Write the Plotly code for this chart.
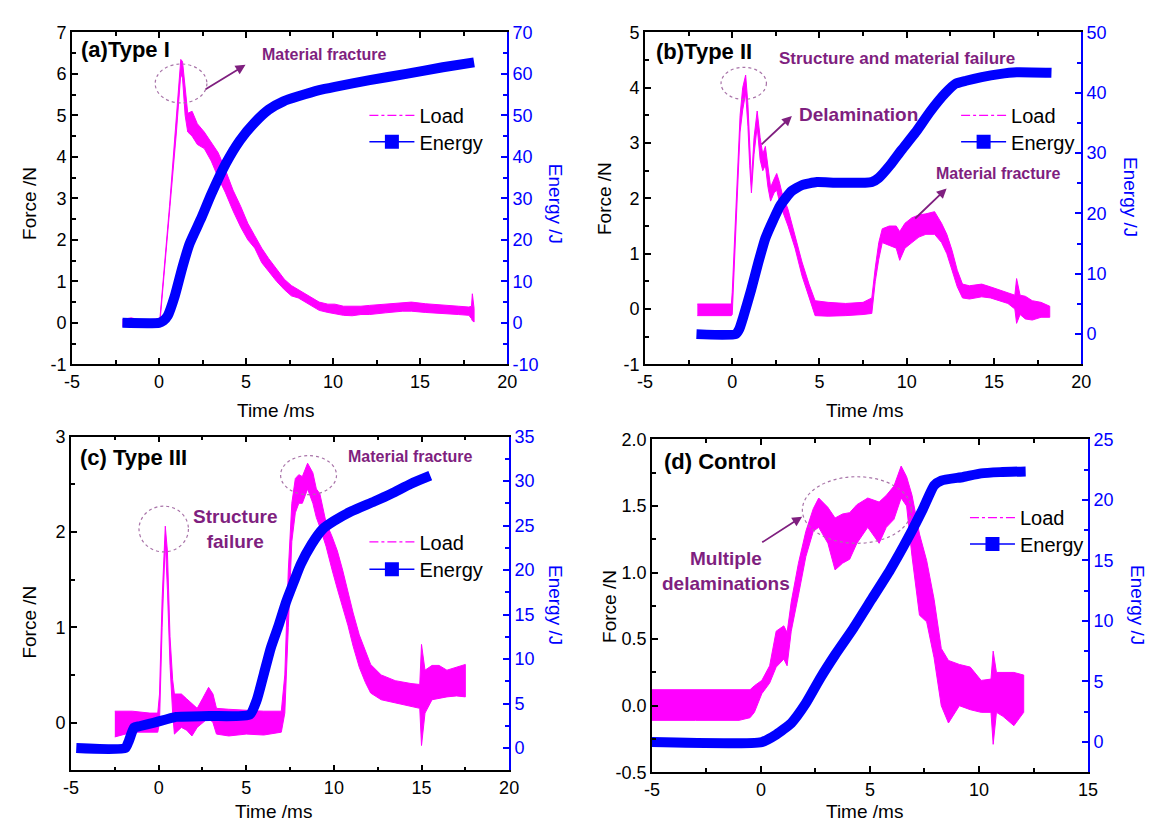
import plotly.graph_objects as go

# ---------------------------------------------------------------- data
X_TICKS_ABC = [-5, 0, 5, 10, 15, 20]
X_TICKS_D = [-5, 0, 5, 10, 15]

A_FORCE_TICKS = [-1, 0, 1, 2, 3, 4, 5, 6, 7]
A_ENERGY_TICKS = [-10, 0, 10, 20, 30, 40, 50, 60, 70]
B_FORCE_TICKS = [-1, 0, 1, 2, 3, 4, 5]
B_ENERGY_TICKS = [0, 10, 20, 30, 40, 50]
C_FORCE_TICKS = [0, 1, 2, 3]
C_ENERGY_TICKS = [0, 5, 10, 15, 20, 25, 30, 35]
D_FORCE_TICKS = [-0.5, 0.0, 0.5, 1.0, 1.5, 2.0]
D_ENERGY_TICKS = [0, 5, 10, 15, 20, 25]

# (a) Type I  -- load band (lower / upper envelope of the noisy trace)
A_LOAD_T = [-2.1, -1.6, -1.0, 0.0, 0.05, 0.6, 1.0, 1.25, 1.35, 1.5,
            1.65, 1.9, 2.2, 2.6, 3.0, 3.4, 3.8, 4.25, 4.7, 5.1,
            5.5, 5.9, 6.3, 6.75, 7.2, 7.6, 8.0, 8.4, 8.8, 9.2,
            9.7, 10.1, 10.6, 11.1, 11.6, 12.1, 13.0, 14.0, 14.5, 15.3,
            16.3, 17.2, 17.8, 17.95, 18.0, 18.1]
A_LOAD_LO = [-0.08, -0.1, -0.06, -0.05, 0.0, 2.6, 4.6, 6.0, 5.9, 5.0,
             4.6, 4.5, 4.3, 4.2, 3.9, 3.5, 3.15, 2.7, 2.3, 2.0,
             1.8, 1.45, 1.25, 1.0, 0.8, 0.65, 0.6, 0.5, 0.4, 0.3,
             0.25, 0.21, 0.18, 0.17, 0.2, 0.2, 0.24, 0.28, 0.28, 0.25,
             0.22, 0.2, 0.18, 0.1, 0.05, 0.02]
A_LOAD_HI = [0.08, 0.12, 0.06, 0.1, 0.1, 2.8, 4.9, 6.35, 6.3, 5.6,
             5.05, 5.1, 4.8, 4.6, 4.35, 4.1, 3.7, 3.2, 2.8, 2.4,
             2.1, 1.8, 1.55, 1.3, 1.05, 0.9, 0.8, 0.72, 0.6, 0.5,
             0.45, 0.45, 0.4, 0.4, 0.4, 0.42, 0.45, 0.49, 0.5, 0.46,
             0.42, 0.4, 0.38, 0.4, 0.7, 0.35]
A_ENERGY_T = [-2.1, 0.0, 0.25, 0.5, 0.9, 1.35, 1.75, 2.4, 3.0, 3.85,
              4.65, 5.5, 6.3, 7.15, 8.0, 9.2, 10.1, 12.1, 14.2, 16.3, 18.1]
A_ENERGY = [0, 0, 0.5, 1.7, 6.4, 13.5, 19, 25, 31, 38.5,
            44, 48.3, 51.4, 53.4, 54.6, 56.1, 56.9, 58.5, 60, 61.6, 62.8]

# (b) Type II
B_LOAD_T = [-2.0, -1.0, -0.05, 0.0, 0.2, 0.45, 0.6, 0.77, 0.9, 1.0,
            1.1, 1.25, 1.43, 1.6, 1.75, 1.9, 2.05, 2.2, 2.4, 2.55,
            2.7, 2.85, 3.2, 3.6, 4.0, 4.4, 4.75, 5.5, 6.5, 7.5,
            8.0, 8.2, 8.4, 8.6, 9.0, 9.4, 9.6, 9.9, 10.3, 10.7,
            11.1, 11.6, 12.0, 12.3, 12.6, 12.9, 13.2, 13.6, 14.3, 14.8,
            15.3, 15.8, 16.2, 16.3, 16.5, 16.8, 17.2, 17.7, 18.2]
B_LOAD_LO = [-0.12, -0.12, -0.12, -0.1, 1.5, 3.2, 3.6, 3.9, 3.3, 2.6,
             2.1, 2.8, 3.3, 2.7, 2.5, 2.6, 2.2, 1.95, 2.1, 2.15,
             1.95, 1.8, 1.5, 1.1, 0.6, 0.2, -0.12, -0.13, -0.12, -0.1,
             -0.08, 0.5, 0.9, 1.2, 1.15, 1.1, 0.88, 1.1, 1.2, 1.3,
             1.35, 1.35, 1.2, 1.0, 0.7, 0.4, 0.2, 0.18, 0.22, 0.2,
             0.15, 0.1, 0.0, -0.26, -0.1, -0.18, -0.2, -0.15, -0.15]
B_LOAD_HI = [0.09, 0.09, 0.09, 0.3, 1.7, 3.5, 4.0, 4.23, 3.7, 2.9,
             2.3, 3.1, 3.58, 3.1, 2.8, 2.94, 2.6, 2.2, 2.35, 2.45,
             2.3, 2.1, 1.8, 1.3, 0.85, 0.45, 0.15, 0.12, 0.1, 0.12,
             0.2, 0.75, 1.2, 1.45, 1.5, 1.5, 1.4, 1.55, 1.65, 1.7,
             1.72, 1.76, 1.55, 1.35, 1.06, 0.7, 0.45, 0.42, 0.45, 0.4,
             0.35, 0.3, 0.25, 0.55, 0.25, 0.23, 0.15, 0.12, 0.05]
B_ENERGY_T = [-2.05, 0.2, 0.4, 0.65, 1.08, 1.5, 1.9, 2.35, 2.75, 3.4,
              4.0, 4.85, 5.9, 7.6, 8.0, 8.4, 9.05, 9.7, 10.5, 11.35,
              12.2, 12.8, 13.4, 14.3, 15.3, 16.3, 18.3]
B_ENERGY = [0, 0, 0.8, 3, 7.3, 11.9, 15.9, 18.9, 21.3, 23.7,
            24.7, 25.2, 25.1, 25.1, 25.2, 25.9, 28, 30.5, 33.4, 36.9,
            39.9, 41.5, 42, 42.6, 43.1, 43.4, 43.3]

# (c) Type III
C_LOAD_T = [-2.5, -1.5, -0.5, -0.05, 0.05, 0.2, 0.38, 0.5, 0.65, 0.8,
            0.9, 1.3, 1.6, 1.9, 2.2, 2.5, 2.85, 3.1, 3.3, 4.0,
            5.0, 6.0, 7.0, 7.2, 7.4, 7.6, 7.8, 8.0, 8.2, 8.5,
            8.8, 9.0, 9.2, 9.55, 9.9, 10.2, 10.5, 10.8, 11.1, 11.45,
            11.8, 12.1, 12.7, 13.5, 14.4, 14.9, 15.0, 15.2, 15.6, 16.0,
            16.45, 17.0, 17.5]
C_LOAD_LO = [-0.15, -0.1, -0.1, -0.1, 0.0, 1.0, 1.9, 1.4, 0.6, 0.1,
             -0.12, -0.05, -0.08, -0.14, -0.05, 0.0, 0.05, 0.0, -0.12, -0.14,
             -0.12, -0.13, -0.1, 0.1, 1.0, 1.9, 2.2, 2.3, 2.3, 2.45,
             2.3, 2.15, 2.05, 1.85, 1.6, 1.4, 1.2, 1.02, 0.8, 0.58,
             0.42, 0.31, 0.24, 0.2, 0.17, 0.15, -0.24, 0.1, 0.24, 0.25,
             0.27, 0.28, 0.27]
C_LOAD_HI = [0.12, 0.12, 0.1, 0.1, 0.3, 1.3, 2.06, 1.8, 0.9, 0.45,
             0.3, 0.3, 0.25, 0.2, 0.15, 0.25, 0.37, 0.3, 0.15, 0.14,
             0.13, 0.12, 0.12, 0.5, 1.6, 2.3, 2.56, 2.6, 2.58, 2.72,
             2.62, 2.45, 2.4, 2.1, 1.95, 1.8, 1.6, 1.36, 1.15, 0.92,
             0.75, 0.61, 0.5, 0.44, 0.41, 0.4, 0.82, 0.55, 0.6, 0.6,
             0.55, 0.58, 0.61]
C_ENERGY_T = [-4.7, -1.9, -1.7, -1.4, -1.1, -0.25, 1.0, 2.9, 5.2, 5.6,
              6.0, 6.4, 6.85, 7.27, 7.7, 8.1, 8.73, 9.36, 10.0, 11.0,
              12.3, 13.3, 14.4, 15.5]
C_ENERGY = [0, 0, 0.8, 2.3, 2.45, 2.85, 3.5, 3.6, 3.75, 5.4,
            8.3, 11.25, 13.8, 16.4, 18.6, 20.6, 22.9, 24.6, 25.5, 26.6,
            27.7, 28.6, 29.7, 30.6]

# (d) Control
D_LOAD_T = [-5.0, -3.0, -1.0, -0.5, -0.3, 0.04, 0.4, 0.7, 1.05, 1.2,
            1.39, 1.72, 2.06, 2.4, 2.65, 3.07, 3.4, 3.74, 4.07, 4.4,
            4.9, 5.42, 5.75, 6.1, 6.43, 6.68, 6.93, 7.27, 7.6, 7.94,
            8.27, 8.6, 9.1, 9.6, 10.1, 10.55, 10.65, 10.8, 11.1, 11.6,
            12.05]
D_LOAD_LO = [-0.11, -0.11, -0.11, -0.09, -0.05, 0.09, 0.17, 0.29, 0.35, 0.3,
             0.56, 0.83, 1.12, 1.31, 1.34, 1.22, 1.02, 1.07, 1.1, 1.22,
             1.34, 1.22, 1.34, 1.4, 1.56, 1.5, 1.12, 0.68, 0.63, 0.36,
             0.0, -0.13, 0.0, -0.03, -0.05, -0.05, -0.29, -0.05, -0.08, -0.15,
             -0.05]
D_LOAD_HI = [0.12, 0.12, 0.12, 0.12, 0.15, 0.19, 0.3, 0.56, 0.6, 0.55,
             0.78, 1.07, 1.31, 1.48, 1.56, 1.49, 1.41, 1.44, 1.45, 1.51,
             1.56, 1.53, 1.58, 1.65, 1.8, 1.72, 1.58, 1.29, 1.09, 0.8,
             0.43, 0.34, 0.31, 0.29, 0.19, 0.2, 0.41, 0.25, 0.25, 0.25,
             0.23]
D_ENERGY_T = [-5.0, 0.04, 0.71, 1.39, 2.06, 2.73, 3.4, 4.24, 5.08, 5.92,
              6.76, 7.44, 7.94, 8.27, 9.28, 10.1, 10.97, 12.14]
D_ENERGY = [0, 0, 0.62, 1.56, 3.2, 5.3, 7.2, 9.4, 11.8, 14.2,
            16.9, 19.3, 21.2, 21.6, 21.9, 22.2, 22.3, 22.36]

# ---------------------------------------------------------------- style
W, H = 1164, 834
FONT = "Liberation Sans, Arial, sans-serif"
MAG = "#FF00FF"
BLUE = "#0000FF"
PURP = "#7F1F7F"
CIRC = "#A873A8"


def lab(v, fmt="{:g}"):
    return fmt.format(v).replace("\u2212", "-")


PANELS = [
    dict(box=(65, 507, 23, 363), xr=[-5, 20], xt=X_TICKS_ABC,
         fr=[-1, 7], ft=A_FORCE_TICKS, fm=0.5, ffmt="{:g}",
         er=[-10, 70], et=A_ENERGY_TICKS, em=5,
         t=A_LOAD_T, lo=A_LOAD_LO, hi=A_LOAD_HI, et_=A_ENERGY_T, e=A_ENERGY,
         leg=(362, 108, 135), ftitle=(22, 198), etitle=(556, 199), xtitle=(272, 410)),
    dict(box=(647, 1090, 23, 363), xr=[-5, 20], xt=X_TICKS_ABC,
         fr=[-1, 5], ft=B_FORCE_TICKS, fm=0.5, ffmt="{:g}",
         er=[-5, 50], et=B_ENERGY_TICKS, em=5,
         t=B_LOAD_T, lo=B_LOAD_LO, hi=B_LOAD_HI, et_=B_ENERGY_T, e=B_ENERGY,
         leg=(963, 108, 135), ftitle=(606, 193), etitle=(1140, 192), xtitle=(870, 410)),
    dict(box=(64, 509, 437, 779), xr=[-5, 20], xt=X_TICKS_ABC,
         fr=[-0.5, 3], ft=C_FORCE_TICKS, fm=0.5, ffmt="{:g}",
         er=[-2.5, 35], et=C_ENERGY_TICKS, em=2.5,
         t=C_LOAD_T, lo=C_LOAD_LO, hi=C_LOAD_HI, et_=C_ENERGY_T, e=C_ENERGY,
         leg=(362, 545, 573), ftitle=(22, 627), etitle=(556, 610), xtitle=(270, 821)),
    dict(box=(654, 1097, 440, 781), xr=[-5, 15], xt=X_TICKS_D,
         fr=[-0.5, 2.0], ft=D_FORCE_TICKS, fm=0.25, ffmt="{:.1f}",
         er=[-2.5, 25], et=D_ENERGY_TICKS, em=2.5,
         t=D_LOAD_T, lo=D_LOAD_LO, hi=D_LOAD_HI, et_=D_ENERGY_T, e=D_ENERGY,
         leg=(972, 520, 547), ftitle=(611, 611), etitle=(1147, 610), xtitle=(870, 821)),
]

fig = go.Figure()
layout = dict(width=W, height=H, margin=dict(l=0, r=0, t=0, b=0),
              paper_bgcolor="white", plot_bgcolor="white",
              font=dict(family=FONT, size=18, color="black"))
annotations = []
shapes = []


def legend_cfg(x, yc):
    return dict(x=x / W, y=1 - yc / H, xanchor="left", yanchor="middle",
                bgcolor="rgba(0,0,0,0)", borderwidth=0,
                font=dict(family=FONT, size=20, color="black"),
                itemwidth=45, tracegroupgap=0)


for i, p in enumerate(PANELS):
    n = i + 1
    xid = "x" if n == 1 else f"x{n}"
    xkey = "xaxis" if n == 1 else f"xaxis{n}"
    fy = 2 * i + 1
    ey = 2 * i + 2
    fid = "y" if fy == 1 else f"y{fy}"
    fkey = "yaxis" if fy == 1 else f"yaxis{fy}"
    eid = f"y{ey}"
    ekey = f"yaxis{ey}"
    leg_load = "legend" if fy == 1 else f"legend{fy}"
    leg_en = f"legend{ey}"
    x0, x1, y0, y1 = p["box"]
    xdom = [x0 / W, x1 / W]
    ydom = [1 - y1 / H, 1 - y0 / H]

    layout[xkey] = dict(domain=xdom, range=p["xr"], anchor=fid,
                        tickmode="array", tickvals=p["xt"],
                        ticktext=[lab(v) for v in p["xt"]],
                        ticks="inside", ticklen=6, tickwidth=1.5, tickcolor="black",
                        minor=dict(dtick=2.5, tick0=0, ticks="inside", ticklen=4,
                                   tickwidth=1.5, tickcolor="black"),
                        showline=True, linewidth=1.6, linecolor="black",
                        mirror="ticks", showgrid=False, zeroline=False,
                        tickfont=dict(size=18, color="black"))
    layout[fkey] = dict(domain=ydom, range=p["fr"], anchor=xid,
                        tickmode="array", tickvals=p["ft"],
                        ticktext=[lab(v, p["ffmt"]) for v in p["ft"]],
                        ticks="inside", ticklen=6, tickwidth=1.5, tickcolor="black",
                        minor=dict(dtick=p["fm"], tick0=0, ticks="inside", ticklen=4,
                                   tickwidth=1.5, tickcolor="black"),
                        showline=True, linewidth=1.6, linecolor="black",
                        showgrid=False, zeroline=False,
                        tickfont=dict(size=18, color="black"))
    layout[ekey] = dict(domain=ydom, range=p["er"], anchor=xid, overlaying=fid,
                        side="right", tickmode="array", tickvals=p["et"],
                        ticktext=[lab(v) for v in p["et"]],
                        ticks="inside", ticklen=6, tickwidth=1.5, tickcolor=BLUE,
                        minor=dict(dtick=p["em"], tick0=0, ticks="inside", ticklen=4,
                                   tickwidth=1.5, tickcolor=BLUE),
                        showline=True, linewidth=1.6, linecolor=BLUE,
                        showgrid=False, zeroline=False,
                        tickfont=dict(size=18, color=BLUE))

    # load band
    fig.add_trace(go.Scatter(
        x=list(p["t"]) + list(p["t"])[::-1],
        y=list(p["hi"]) + list(p["lo"])[::-1],
        mode="lines", fill="toself", fillcolor=MAG,
        line=dict(color=MAG, width=1), xaxis=xid, yaxis=fid,
        showlegend=False, hoverinfo="skip"))
    # energy
    fig.add_trace(go.Scatter(
        x=p["et_"], y=p["e"], mode="lines",
        line=dict(color=BLUE, width=10, shape="spline", smoothing=0.5),
        xaxis=xid, yaxis=eid, showlegend=False))
    # legend entries
    fig.add_trace(go.Scatter(
        x=[None], y=[None], mode="lines", name="Load",
        line=dict(color=MAG, width=1.2, dash="dashdot"),
        xaxis=xid, yaxis=fid, legend=leg_load))
    fig.add_trace(go.Scatter(
        x=[None], y=[None], mode="lines+markers", name="Energy",
        line=dict(color=BLUE, width=1.5),
        marker=dict(symbol="square", size=14, color=BLUE),
        xaxis=xid, yaxis=eid, legend=leg_en))

    lx, ly_load, ly_en = p["leg"]
    layout[leg_load] = legend_cfg(lx, ly_load)
    layout[leg_en] = legend_cfg(lx, ly_en)

    # axis titles
    fx, fyy = p["ftitle"]
    annotations.append(dict(text="Force /N", x=fx / W, y=1 - fyy / H,
                            xref="paper", yref="paper", showarrow=False,
                            xanchor="center", yanchor="middle",
                            textangle=-90, font=dict(size=19, color="black")))
    ex, eyy = p["etitle"]
    annotations.append(dict(text="Energy /J", x=ex / W, y=1 - eyy / H,
                            xref="paper", yref="paper", showarrow=False,
                            xanchor="center", yanchor="middle",
                            textangle=90, font=dict(size=19, color=BLUE)))
    tx, ty = p["xtitle"]
    annotations.append(dict(text="Time /ms", x=tx / W, y=1 - ty / H,
                            xref="paper", yref="paper", showarrow=False,
                            xanchor="center", yanchor="middle",
                            font=dict(size=19, color="black")))


def note(text, x, y, xid, yid, size=16, anchor="center", color=PURP):
    annotations.append(dict(text=text, x=x, y=y, xref=xid, yref=yid,
                            showarrow=False, xanchor=anchor, yanchor="middle",
                            font=dict(size=size, color=color, family=FONT)))


def arrow(tail, head, xid, yid):
    annotations.append(dict(text="", x=head[0], y=head[1], ax=tail[0], ay=tail[1],
                            xref=xid, yref=yid, axref=xid, ayref=yid,
                            showarrow=True, arrowhead=2, arrowsize=1.1,
                            arrowwidth=1.8, arrowcolor=PURP))


def ring(x0, x1, y0, y1, xid, yid):
    shapes.append(dict(type="circle", x0=x0, x1=x1, y0=y0, y1=y1,
                       xref=xid, yref=yid,
                       line=dict(color=CIRC, width=1.2, dash="dot")))


# (a)
note("<b>(a)Type I</b>", -4.59, 6.59, "x", "y", size=22, anchor="left", color="black")
note("<b>Material fracture</b>", 9.49, 6.46, "x", "y", size=16)
arrow((2.59, 5.61), (4.97, 6.22), "x", "y")
ring(-0.22, 2.75, 5.3, 6.24, "x", "y")
# (b)
note("<b>(b)Type II</b>", -4.47, 4.65, "x2", "y3", size=22, anchor="left", color="black")
note("<b>Structure and material failure</b>", 9.44, 4.52, "x2", "y3", size=17)
note("<b>Delamination</b>", 7.25, 3.51, "x2", "y3", size=19)
note("<b>Material fracture</b>", 15.27, 2.45, "x2", "y3", size=16)
arrow((1.6, 2.95), (3.42, 3.49), "x2", "y3")
arrow((10.4, 1.61), (12.29, 2.18), "x2", "y3")
ring(-0.64, 1.96, 3.79, 4.37, "x2", "y3")
# (c)
note("<b>(c) Type III</b>", -4.62, 2.78, "x3", "y5", size=22, anchor="left", color="black")
note("<b>Structure<br>failure</b>", 4.35, 2.03, "x3", "y5", size=19)
note("<b>Material fracture</b>", 14.35, 2.79, "x3", "y5", size=16)
ring(-1.12, 1.7, 1.79, 2.27, "x3", "y5")
ring(6.96, 10.15, 2.39, 2.8, "x3", "y5")
# (d)
note("<b>(d) Control</b>", -4.53, 1.835, "x4", "y7", size=22, anchor="left", color="black")
note("<b>Multiple<br>delaminations</b>", -1.6, 1.015, "x4", "y7", size=19)
arrow((-0.01, 1.22), (1.89, 1.42), "x4", "y7")
ring(1.9, 6.9, 1.22, 1.72, "x4", "y7")

layout["annotations"] = annotations
layout["shapes"] = shapes
fig.update_layout(**layout)
fig.write_html("out.html",
               config={"displayModeBar": False},
               post_script="document.body.style.margin='0px';"
                           "document.body.style.overflow='hidden';")
